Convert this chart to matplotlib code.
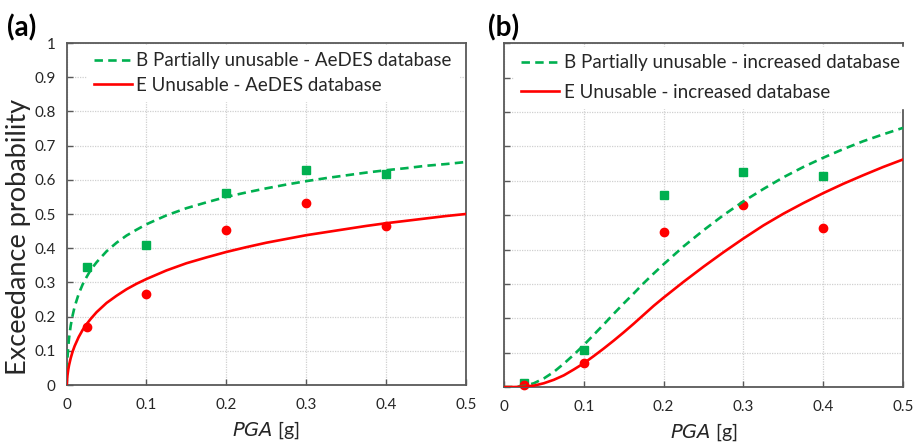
import matplotlib
matplotlib.use("Agg")
import matplotlib.pyplot as plt

plt.rcParams['font.family'] = ['Lato', 'DejaVu Sans']

# observed data points
pga_pts = [0.025, 0.1, 0.2, 0.3, 0.4]
a_B_pts = [0.345, 0.408, 0.562, 0.628, 0.617]
a_E_pts = [0.171, 0.267, 0.452, 0.533, 0.465]
b_B_pts = [0.012, 0.108, 0.559, 0.625, 0.613]
b_E_pts = [0.005, 0.071, 0.450, 0.530, 0.462]

# fragility curves
a_x = [0, 0.0005, 0.001, 0.002, 0.003, 0.005, 0.0075, 0.01, 0.015, 0.02, 0.025,
       0.03, 0.0375, 0.05, 0.0625, 0.075, 0.0875, 0.1, 0.125, 0.15, 0.175, 0.2,
       0.225, 0.25, 0.275, 0.3, 0.325, 0.35, 0.375, 0.4, 0.425, 0.45, 0.475, 0.5]
a_B = [0, 0.054, 0.079, 0.113, 0.137, 0.173, 0.204, 0.229, 0.266, 0.294, 0.316,
       0.336, 0.359, 0.391, 0.416, 0.437, 0.454, 0.470, 0.496, 0.517, 0.534, 0.550,
       0.563, 0.575, 0.586, 0.596, 0.605, 0.613, 0.621, 0.628, 0.634, 0.641, 0.646, 0.652]
a_E = [0, 0.017, 0.028, 0.045, 0.058, 0.078, 0.098, 0.114, 0.140, 0.161, 0.178,
       0.193, 0.213, 0.240, 0.261, 0.280, 0.296, 0.310, 0.335, 0.356, 0.373, 0.389,
       0.403, 0.416, 0.427, 0.438, 0.447, 0.456, 0.465, 0.473, 0.480, 0.487, 0.494, 0.5]

b_x = [0, 0.0125, 0.025, 0.0375, 0.05, 0.0625, 0.075, 0.0875, 0.1, 0.1125, 0.125,
       0.1375, 0.15, 0.1625, 0.175, 0.1875, 0.2, 0.225, 0.25, 0.275, 0.3, 0.325,
       0.35, 0.375, 0.4, 0.425, 0.45, 0.475, 0.5]
b_B = [0, 0, 0.003, 0.011, 0.025, 0.044, 0.068, 0.094, 0.122, 0.152, 0.182,
       0.213, 0.243, 0.272, 0.302, 0.330, 0.357, 0.409, 0.456, 0.5, 0.540, 0.576,
       0.610, 0.640, 0.667, 0.692, 0.715, 0.735, 0.754]
b_E = [0, 0, 0.001, 0.004, 0.011, 0.021, 0.034, 0.051, 0.069, 0.090, 0.112,
       0.135, 0.159, 0.184, 0.210, 0.236, 0.260, 0.306, 0.350, 0.392, 0.432, 0.470,
       0.504, 0.535, 0.564, 0.591, 0.616, 0.640, 0.662]

x_ticks = [0, 0.1, 0.2, 0.3, 0.4, 0.5]
x_labels = ['0', '0.1', '0.2', '0.3', '0.4', '0.5']
y_ticks = [i / 10 for i in range(11)]
y_labels = ['0', '0.1', '0.2', '0.3', '0.4', '0.5', '0.6', '0.7', '0.8', '0.9', '1']

GREEN = '#00B050'
RED = '#FF0000'
SPINE = '#595959'
TXT = '#262626'

fig = plt.figure(figsize=(9.17, 4.47), dpi=100)
ax_a = fig.add_axes([0.0727, 0.1387, 0.4353, 0.7651])
ax_b = fig.add_axes([0.5496, 0.1342, 0.4351, 0.7689])


def setup(ax, show_y):
  ax.set_xlim(0, 0.5)
  ax.set_ylim(0, 1)
  ax.set_xticks(x_ticks)
  ax.set_xticklabels(x_labels)
  ax.set_yticks(y_ticks)
  ax.set_yticklabels(y_labels if show_y else [])
  ax.grid(True, color='#d0d0d0', linestyle=(0, (1, 1)), linewidth=0.9)
  ax.set_axisbelow(True)
  for s in ax.spines.values():
    s.set_color(SPINE)
    s.set_linewidth(1.3)
  ax.tick_params(direction='in', length=4, width=1, color=SPINE,
                 labelsize=11, labelcolor=TXT)
  ax.tick_params(axis='x', pad=9)
  ax.tick_params(axis='y', pad=8)
  ax.set_xlabel('$\\mathit{PGA}$ [g]', fontsize=14, color=TXT, labelpad=6)


def draw(ax, xs, yb, ye, pb, pe, lab_b, lab_e, spacing, anchor):
  ax.plot(pga_pts, pb, 's', color=GREEN, markersize=6, zorder=2, clip_on=False)
  ax.plot(pga_pts, pe, 'o', color=RED, markersize=6, zorder=2, clip_on=False)
  lb, = ax.plot(xs, yb, color=GREEN, linewidth=1.9, dashes=(3.2, 2.0), zorder=3,
                label=lab_b)
  le, = ax.plot(xs, ye, color=RED, linewidth=1.9, zorder=3, label=lab_e)
  leg = ax.legend(handles=[lb, le], loc='upper left', bbox_to_anchor=anchor,
                  fontsize=13.5, handlelength=2.0, handletextpad=0.25,
                  labelspacing=spacing, borderaxespad=0.1, borderpad=0.4,
                  frameon=True, fancybox=False, framealpha=1.0)
  leg.get_frame().set_edgecolor('white')
  leg.get_frame().set_facecolor('white')
  for t in leg.get_texts():
    t.set_color(TXT)


setup(ax_a, True)
setup(ax_b, False)
draw(ax_a, a_x, a_B, a_E, a_B_pts, a_E_pts,
     'B Partially unusable - AeDES database', 'E Unusable - AeDES database',
     0.38, (0.045, 1.0))
draw(ax_b, b_x, b_B, b_E, b_B_pts, b_E_pts,
     'B Partially unusable - increased database', 'E Unusable - increased database',
     0.68, (0.02, 0.996))

ax_a.set_ylabel('Exceedance probability', fontsize=19.5, color=TXT)
ax_a.yaxis.set_label_coords(-0.09, 0.434)

fig.text(0.008, 0.968, '(a)', fontsize=20, fontweight='bold', va='top', ha='left')
fig.text(0.532, 0.968, '(b)', fontsize=20, fontweight='bold', va='top', ha='left')

fig.savefig('out.png', dpi=100)
